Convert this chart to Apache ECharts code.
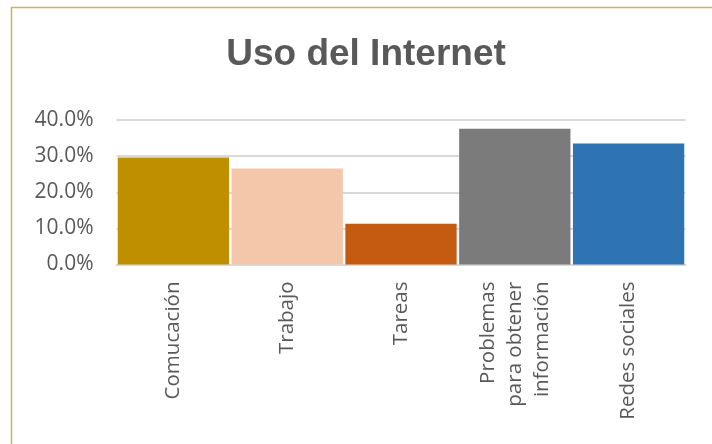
<!DOCTYPE html>
<html>
<head>
<meta charset="utf-8">
<script src="https://cdn.jsdelivr.net/npm/echarts@6/dist/echarts.min.js"></script>
<style>
html,body{margin:0;padding:0;background:#fff;}
#chart{width:712px;height:444px;}
</style>
</head>
<body>
<div id="chart"></div>
<script>
const titleText = 'Uso del Internet';
const categories = ['Comucación', 'Trabajo', 'Tareas', 'Problemas\npara obtener\ninformación', 'Redes sociales'];
const values = [0.296, 0.266, 0.113, 0.376, 0.335];
const yTicks = [0, 0.1, 0.2, 0.3, 0.4];
const barColors = ['#bf8f00', '#f5c7aa', '#c55a11', '#7b7b7b', '#2e74b5'];

const chart = echarts.init(document.getElementById('chart'), null, {renderer: 'canvas'});
chart.setOption({
  animation: false,
  backgroundColor: '#ffffff',
  graphic: [
    {type: 'rect', shape: {x: 11.5, y: 7.5, width: 900, height: 600},
     style: {fill: 'none', stroke: '#c8b45c', lineWidth: 1.5}, silent: true},
    {type: 'text', x: 366, y: 55,
     style: {text: titleText, fill: '#595959', font: 'bold 37px "Liberation Sans", Arial, sans-serif',
             textAlign: 'center', textVerticalAlign: 'middle'}}
  ],
  grid: {left: 116.5, right: 26.5, top: 120, bottom: 179.5, containLabel: false},
  xAxis: {
    type: 'category',
    data: categories,
    axisLine: {show: true, lineStyle: {color: '#d9d9d9', width: 2}},
    axisTick: {show: false},
    axisLabel: {
      rotate: 90, interval: 0, margin: 17,
      color: '#595959', fontFamily: '"Open Sans", sans-serif', fontSize: 20.5, lineHeight: 27
    }
  },
  yAxis: {
    type: 'value',
    min: yTicks[0], max: yTicks[yTicks.length - 1], interval: 0.1,
    axisLine: {show: false},
    axisTick: {show: false},
    splitLine: {show: true, lineStyle: {color: '#d9d9d9', width: 2}},
    axisLabel: {
      margin: 23, color: '#595959', fontFamily: '"Open Sans", sans-serif', fontSize: 21,
      formatter: v => (v * 100).toFixed(1) + '%'
    }
  },
  series: [{
    type: 'bar',
    data: values.map((v, i) => ({value: v, itemStyle: {color: barColors[i]}})),
    barCategoryGap: '2.2%'
  }]
});
</script>
</body>
</html>
